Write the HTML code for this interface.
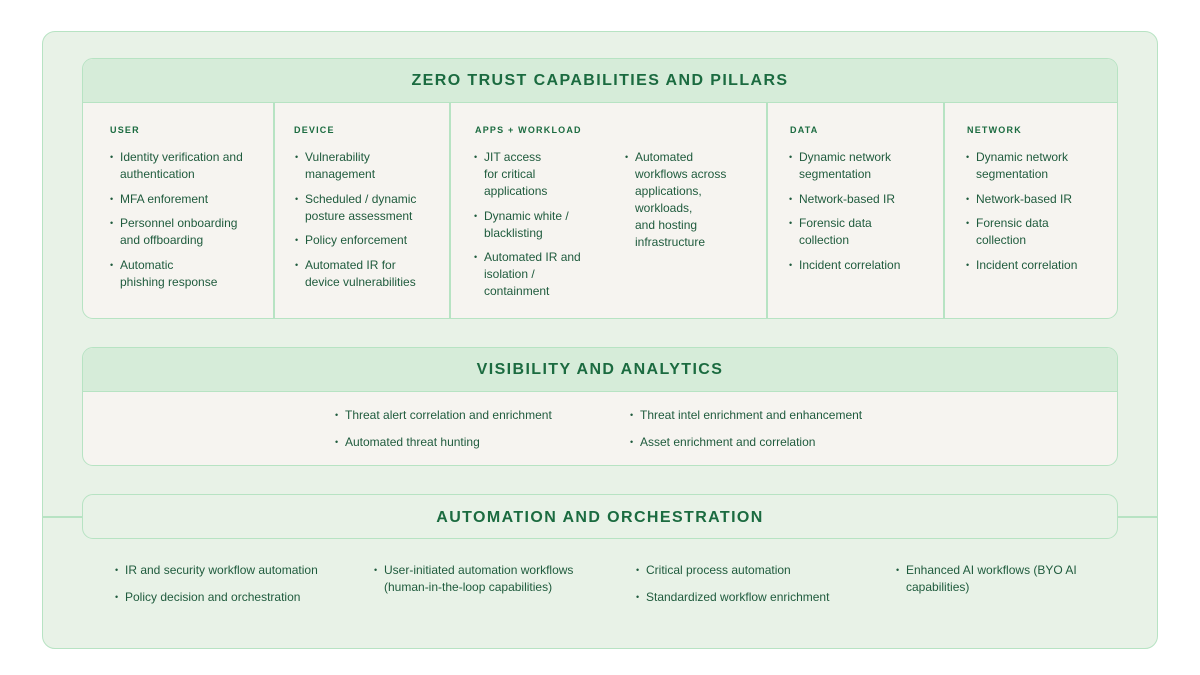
<!DOCTYPE html>
<html><head><meta charset="utf-8"><style>
*{margin:0;padding:0;box-sizing:border-box}
body{width:1200px;height:675px;background:#fff;font-family:"Liberation Sans",sans-serif;color:#1f5b3d;position:relative;overflow:hidden}
.abs{position:absolute}
.outer{left:42px;top:31px;width:1116px;height:618px;background:#e8f2e7;border:1.5px solid #b7e3c3;border-radius:13px}
.box{border:1.5px solid #b7e3c3;border-radius:11px;overflow:hidden;background:#f6f4f0}
.hdr{background:#d6ecd9;border-bottom:1.5px solid #b7e3c3;height:44px;display:flex;align-items:center;justify-content:center;font-size:16px;font-weight:bold;letter-spacing:1.4px;color:#1b6b40}
.vl{position:absolute;top:102px;width:1.5px;height:216px;background:#b7e3c3}
.lab{position:absolute;top:125px;font-size:9px;font-weight:bold;letter-spacing:1.2px;color:#1b6b40}
ul{position:absolute;list-style:none;font-size:12px;line-height:17px}
li{position:relative;margin-bottom:7.5px}
li:before{content:"•";position:absolute;left:-10px;font-size:9px}
</style></head><body>
<div class="abs outer"></div>
<div class="abs" style="left:42px;top:516px;width:41px;height:1.5px;background:#b7e3c3"></div>
<div class="abs" style="left:1117px;top:516px;width:41px;height:1.5px;background:#b7e3c3"></div>

<div class="abs box" style="left:82px;top:58px;width:1036px;height:261px">
<div class="hdr">ZERO TRUST CAPABILITIES AND PILLARS</div>
</div>
<div class="vl" style="left:273px"></div>
<div class="vl" style="left:449px"></div>
<div class="vl" style="left:766px"></div>
<div class="vl" style="left:943px"></div>
<div class="lab" style="left:110px">USER</div>
<div class="lab" style="left:294px">DEVICE</div>
<div class="lab" style="left:475px">APPS + WORKLOAD</div>
<div class="lab" style="left:790px">DATA</div>
<div class="lab" style="left:967px">NETWORK</div>
<ul style="left:120px;top:149px"><li>Identity verification and<br>authentication</li><li>MFA enforement</li><li>Personnel onboarding<br>and offboarding</li><li>Automatic<br>phishing response</li></ul>
<ul style="left:305px;top:149px"><li>Vulnerability<br>management</li><li>Scheduled / dynamic<br>posture assessment</li><li>Policy enforcement</li><li>Automated IR for<br>device vulnerabilities</li></ul>
<ul style="left:484px;top:149px"><li>JIT access<br>for critical<br>applications</li><li>Dynamic white /<br>blacklisting</li><li>Automated IR and<br>isolation /<br>containment</li></ul>
<ul style="left:635px;top:149px"><li>Automated<br>workflows across<br>applications,<br>workloads,<br>and hosting<br>infrastructure</li></ul>
<ul style="left:799px;top:149px"><li>Dynamic network<br>segmentation</li><li>Network-based IR</li><li>Forensic data<br>collection</li><li>Incident correlation</li></ul>
<ul style="left:976px;top:149px"><li>Dynamic network<br>segmentation</li><li>Network-based IR</li><li>Forensic data<br>collection</li><li>Incident correlation</li></ul>

<div class="abs box" style="left:82px;top:347px;width:1036px;height:119px">
<div class="hdr">VISIBILITY AND ANALYTICS</div>
</div>
<ul style="left:345px;top:407px"><li style="margin-bottom:10px">Threat alert correlation and enrichment</li><li>Automated threat hunting</li></ul>
<ul style="left:640px;top:407px"><li style="margin-bottom:10px">Threat intel enrichment and enhancement</li><li>Asset enrichment and correlation</li></ul>

<div class="abs box" style="left:82px;top:494px;width:1036px;height:45px;background:#e8f2e7">
<div class="hdr" style="background:transparent;border:none;height:45px">AUTOMATION AND ORCHESTRATION</div>
</div>
<ul style="left:125px;top:562px"><li style="margin-bottom:10px">IR and security workflow automation</li><li>Policy decision and orchestration</li></ul>
<ul style="left:384px;top:562px"><li>User-initiated automation workflows<br>(human-in-the-loop capabilities)</li></ul>
<ul style="left:646px;top:562px"><li style="margin-bottom:10px">Critical process automation</li><li>Standardized workflow enrichment</li></ul>
<ul style="left:906px;top:562px"><li>Enhanced AI workflows (BYO AI<br>capabilities)</li></ul>
</body></html>
